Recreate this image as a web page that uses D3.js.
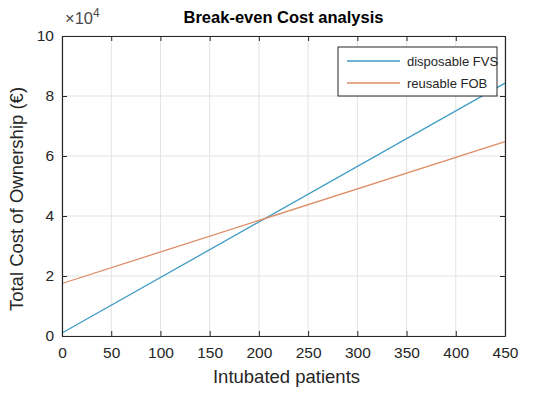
<!DOCTYPE html>
<html>
<head>
<meta charset="utf-8">
<script src="https://cdn.jsdelivr.net/npm/d3@7"></script>
<style>
  html, body { margin: 0; padding: 0; background: #fff; }
  svg { display: block; font-family: "Liberation Sans", Arial, Helvetica, sans-serif; }
</style>
</head>
<body>
<svg id="chart" width="545" height="412"></svg>
<script>
// Patients on the x axis and cost (EUR) for each option
const patients = [0, 450];
const disposableFVS = [1000, 84300];
const reusableFOB = [17500, 64800];

const seriesNames = ["disposable FVS", "reusable FOB"];
const seriesColors = ["#3f9cc4", "#dd8c66"];

const xTicks = [0, 50, 100, 150, 200, 250, 300, 350, 400, 450];
const yTicks = [0, 20000, 40000, 60000, 80000, 100000];
const yTickLabels = ["0", "2", "4", "6", "8", "10"];

const titleText = "Break-even Cost analysis";
const xLabelText = "Intubated patients";
const yLabelText = "Total Cost of Ownership (€)";

const svg = d3.select("#chart");
const plot = { left: 62, right: 505, top: 36, bottom: 336 };

const x = d3.scaleLinear().domain([0, 450]).range([plot.left, plot.right]);
const y = d3.scaleLinear().domain([0, 100000]).range([plot.bottom, plot.top]);

const axisColor = "#262626";
const tickLen = 5;

// grid
const grid = svg.append("g");
grid.selectAll("line.vx").data(xTicks).join("line")
  .attr("x1", d => x(d)).attr("x2", d => x(d))
  .attr("y1", plot.top).attr("y2", plot.bottom)
  .attr("stroke", "#e3e3e3").attr("stroke-width", 1);
grid.selectAll("line.hy").data(yTicks).join("line")
  .attr("x1", plot.left).attr("x2", plot.right)
  .attr("y1", d => y(d)).attr("y2", d => y(d))
  .attr("stroke", "#e3e3e3").attr("stroke-width", 1);

// series lines
const series = [disposableFVS, reusableFOB];
const line = d3.line().x((d, i) => x(patients[i])).y(d => y(d));
svg.append("g").selectAll("path").data(series).join("path")
  .attr("d", d => line(d))
  .attr("fill", "none")
  .attr("stroke", (d, i) => seriesColors[i])
  .attr("stroke-width", 1.3);

// axes with inward ticks on all four sides
const xBottom = d3.axisBottom(x).tickValues(xTicks).tickSizeInner(-tickLen).tickSizeOuter(0).tickPadding(11);
const xTop = d3.axisTop(x).tickValues(xTicks).tickSizeInner(-tickLen).tickSizeOuter(0).tickFormat("");
const yLeft = d3.axisLeft(y).tickValues(yTicks).tickSizeInner(-tickLen).tickSizeOuter(0).tickPadding(8)
  .tickFormat((d, i) => yTickLabels[i]);
const yRight = d3.axisRight(y).tickValues(yTicks).tickSizeInner(-tickLen).tickSizeOuter(0).tickFormat("");

function styleAxis(g) {
  g.select(".domain").attr("stroke", axisColor).attr("stroke-width", 1.2);
  g.selectAll(".tick line").attr("stroke", axisColor).attr("stroke-width", 1);
  g.selectAll(".tick text").attr("fill", axisColor).style("font-size", "15.5px");
}

svg.append("g").attr("transform", `translate(0,${plot.bottom})`).call(xBottom).call(styleAxis);
svg.append("g").attr("transform", `translate(0,${plot.top})`).call(xTop).call(styleAxis);
svg.append("g").attr("transform", `translate(${plot.left},0)`).call(yLeft).call(styleAxis);
svg.append("g").attr("transform", `translate(${plot.right},0)`).call(yRight).call(styleAxis);
svg.selectAll(".tick text").attr("font-family", null);

// exponent marker
const expo = svg.append("text")
  .attr("x", plot.left + 3).attr("y", 24)
  .attr("fill", "#4a4a4a").style("font-size", "16.5px");
expo.append("tspan").text("×10");
expo.append("tspan").attr("dy", -7).style("font-size", "12px").text("4");

// title and labels
svg.append("text")
  .attr("x", (plot.left + plot.right) / 2).attr("y", 23)
  .attr("text-anchor", "middle").attr("fill", "#000")
  .style("font-size", "16.5px").style("font-weight", "bold")
  .text(titleText);

svg.append("text")
  .attr("x", (plot.left + plot.right) / 2 + 3).attr("y", 383)
  .attr("text-anchor", "middle").attr("fill", axisColor)
  .style("font-size", "18.5px")
  .text(xLabelText);

svg.append("text")
  .attr("transform", `translate(23,${(plot.top + plot.bottom) / 2 + 13}) rotate(-90)`)
  .attr("text-anchor", "middle").attr("fill", axisColor)
  .style("font-size", "18.5px")
  .text(yLabelText);

// legend
const legend = { x: 338, y: 47, w: 159, h: 49 };
const lg = svg.append("g");
lg.append("rect")
  .attr("x", legend.x).attr("y", legend.y)
  .attr("width", legend.w).attr("height", legend.h)
  .attr("fill", "#fff").attr("stroke", axisColor).attr("stroke-width", 1);
const rows = lg.selectAll("g.row").data(seriesNames).join("g")
  .attr("transform", (d, i) => `translate(${legend.x},${legend.y + 14 + i * 22})`);
rows.append("line")
  .attr("x1", 9).attr("x2", 62).attr("y1", 0).attr("y2", 0)
  .attr("stroke", (d, i) => seriesColors[i]).attr("stroke-width", 1.3);
rows.append("text")
  .attr("x", 69).attr("y", 5)
  .attr("fill", axisColor).style("font-size", "13px")
  .text(d => d);
</script>
</body>
</html>
